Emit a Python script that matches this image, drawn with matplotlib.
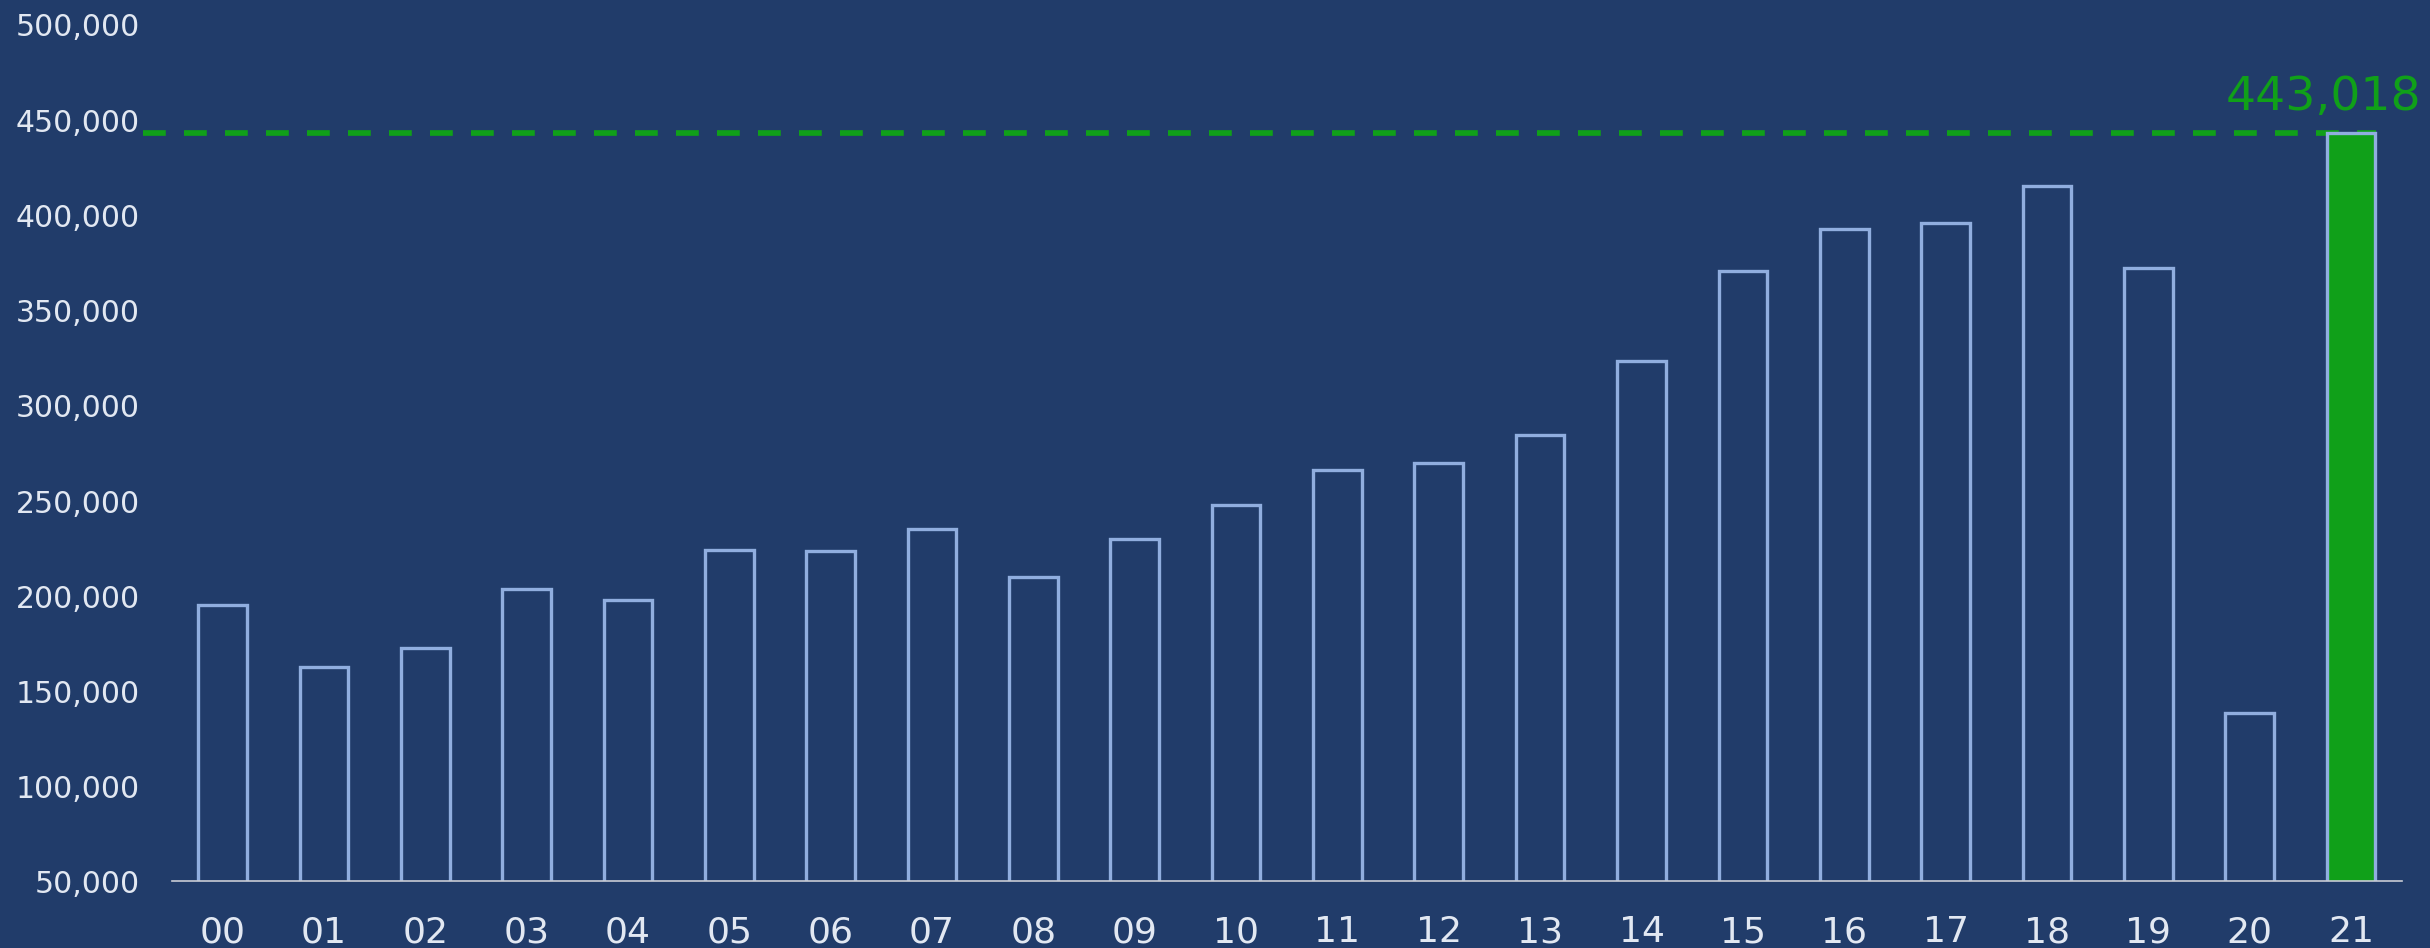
import matplotlib
matplotlib.use('Agg')
import matplotlib.pyplot as plt
import numpy as np

years = ['00', '01', '02', '03', '04', '05', '06', '07', '08', '09', '10',
         '11', '12', '13', '14', '15', '16', '17', '18', '19', '20', '21']
values = [195000, 162500, 172300, 203300, 197600, 223700, 223300, 235100,
          209800, 229400, 247300, 266000, 269300, 284000, 323100, 370400,
          392400, 395700, 415200, 372000, 138000, 443018]
highlight = 443018
yticks = [50000, 100000, 150000, 200000, 250000, 300000, 350000, 400000, 450000, 500000]

bg = '#213c6a'
edge = '#90aedf'
green = '#10a019'
txt = '#e2e8f2'

plt.rcParams['font.family'] = ['DejaVu Sans']

fig = plt.figure(figsize=(24.3, 9.489), dpi=100, facecolor=bg)
ax = fig.add_axes([0.0708, 0.0706, 0.9175, 0.9031])
ax.set_facecolor(bg)

x_pos = np.arange(len(years))
colors = [bg] * (len(years) - 1) + [green]
ax.bar(x_pos, values, width=0.48, bottom=0, color=colors, edgecolor=edge,
       linewidth=2.4, zorder=3)

# dashed marker line at the latest value
ax.plot([-0.785, 21.25], [highlight, highlight], color=green, lw=4.1,
        dashes=(4.0, 3.2), clip_on=False, zorder=2)
ax.annotate(f'{highlight:,}', xy=(x_pos[-1], highlight), xytext=(51, 17),
            textcoords='offset points', ha='right', va='baseline',
            color=green, fontsize=34, annotation_clip=False)

ax.set_xlim(-0.5, 21.5)
ax.set_ylim(50000, 500000)
ax.set_xticks(x_pos)
ax.set_xticklabels(years)
ax.set_yticks(yticks)
ax.set_yticklabels([f'{v:,}' for v in yticks])
ax.tick_params(axis='x', length=0, pad=24, labelsize=26, labelcolor=txt)
ax.tick_params(axis='y', length=0, pad=23, labelsize=21.5, labelcolor=txt)

for s in ['top', 'right', 'left']:
    ax.spines[s].set_visible(False)
ax.spines['bottom'].set_color('#c8ccd4')
ax.spines['bottom'].set_linewidth(1.2)
ax.spines['bottom'].set_zorder(4)

plt.savefig('out.png', dpi=100, facecolor=bg)
